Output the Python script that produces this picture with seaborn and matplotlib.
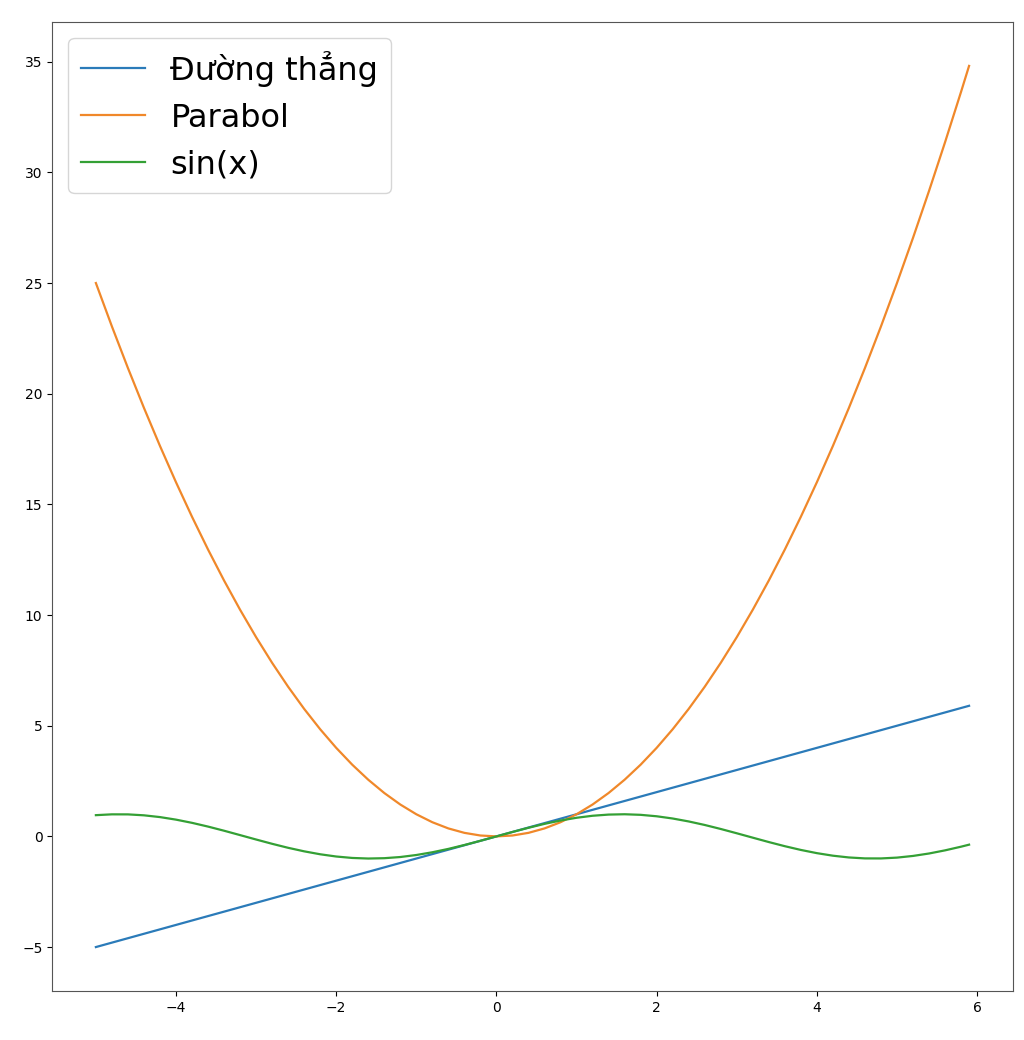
import matplotlib
matplotlib.use("Agg")
import matplotlib.pyplot as plt
import seaborn as sns
import pandas as pd

x_vals = [-5.0, -4.8, -4.6, -4.4, -4.2, -4.0, -3.8, -3.6, -3.4, -3.2, -3.0, -2.8, -2.6, -2.4,
          -2.2, -2.0, -1.8, -1.6, -1.4, -1.2, -1.0, -0.8, -0.6, -0.4, -0.2, 0.0, 0.2, 0.4,
          0.6, 0.8, 1.0, 1.2, 1.4, 1.6, 1.8, 2.0, 2.2, 2.4, 2.6, 2.8, 3.0, 3.2, 3.4, 3.6,
          3.8, 4.0, 4.2, 4.4, 4.6, 4.8, 5.0, 5.2, 5.4, 5.6, 5.8, 5.9]
line_vals = [-5.0, -4.8, -4.6, -4.4, -4.2, -4.0, -3.8, -3.6, -3.4, -3.2, -3.0, -2.8, -2.6, -2.4,
             -2.2, -2.0, -1.8, -1.6, -1.4, -1.2, -1.0, -0.8, -0.6, -0.4, -0.2, 0.0, 0.2, 0.4,
             0.6, 0.8, 1.0, 1.2, 1.4, 1.6, 1.8, 2.0, 2.2, 2.4, 2.6, 2.8, 3.0, 3.2, 3.4, 3.6,
             3.8, 4.0, 4.2, 4.4, 4.6, 4.8, 5.0, 5.2, 5.4, 5.6, 5.8, 5.9]
parabol_vals = [25.0, 23.04, 21.16, 19.36, 17.64, 16.0, 14.44, 12.96, 11.56, 10.24, 9.0, 7.84,
                6.76, 5.76, 4.84, 4.0, 3.24, 2.56, 1.96, 1.44, 1.0, 0.64, 0.36, 0.16, 0.04, 0.0,
                0.04, 0.16, 0.36, 0.64, 1.0, 1.44, 1.96, 2.56, 3.24, 4.0, 4.84, 5.76, 6.76, 7.84,
                9.0, 10.24, 11.56, 12.96, 14.44, 16.0, 17.64, 19.36, 21.16, 23.04, 25.0, 27.04,
                29.16, 31.36, 33.64, 34.81]
sin_vals = [0.959, 0.996, 0.994, 0.952, 0.872, 0.757, 0.612, 0.443, 0.256, 0.058, -0.141, -0.335,
            -0.516, -0.675, -0.808, -0.909, -0.974, -1.000, -0.985, -0.932, -0.841, -0.717,
            -0.565, -0.389, -0.199, 0.0, 0.199, 0.389, 0.565, 0.717, 0.841, 0.932, 0.985, 1.000,
            0.974, 0.909, 0.808, 0.675, 0.516, 0.335, 0.141, -0.058, -0.256, -0.443, -0.612,
            -0.757, -0.872, -0.952, -0.994, -0.996, -0.959, -0.883, -0.773, -0.631, -0.465,
            -0.374]
series_names = ["Đường thẳng", "Parabol", "sin(x)"]

df = pd.DataFrame({"x": x_vals, "line": line_vals, "parabol": parabol_vals, "sin": sin_vals})

plt.rcParams['font.family'] = ['DejaVu Sans']
fig = plt.figure(figsize=(10.24, 10.4), dpi=100)
ax = fig.add_axes([0.051, 0.047, 0.938, 0.932])

colors = ["#2b7bb9", "#f0882a", "#34a035"]
for col, name, c in zip(["line", "parabol", "sin"], series_names, colors):
    sns.lineplot(data=df, x="x", y=col, label=name, color=c, ax=ax, sort=False, linewidth=1.6)

ax.set_xlabel("")
ax.set_ylabel("")
ax.tick_params(labelsize=10)
for s in ax.spines.values():
    s.set_color("#555555")
ax.legend(loc="upper left", fontsize=23)

fig.savefig("out.png", dpi=100)
